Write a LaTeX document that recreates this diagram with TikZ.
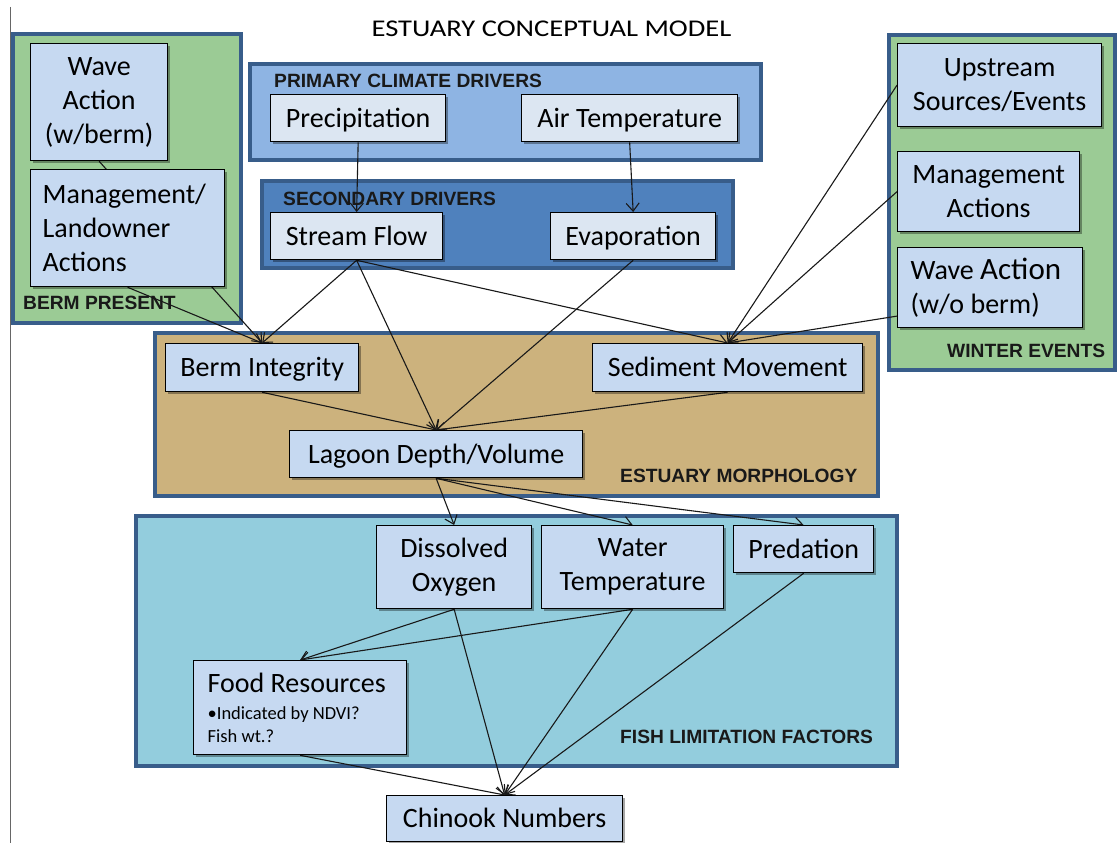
\documentclass[tikz,border=0pt]{standalone}
\usepackage{fontspec}
\setmainfont{Carlito}
\newfontfamily\labfont{Liberation Sans}
\usetikzlibrary{arrows.meta,shadows,calc}
\definecolor{grpborder}{HTML}{385D8A}
\definecolor{greenfill}{HTML}{9BCB95}
\definecolor{primfill}{HTML}{8EB4E3}
\definecolor{secfill}{HTML}{4F81BD}
\definecolor{tanfill}{HTML}{CCB27D}
\definecolor{fishfill}{HTML}{93CDDD}
\definecolor{nodefill}{HTML}{C6D9F1}
\definecolor{lightnode}{HTML}{DCE6F2}
\pgfdeclarelayer{bg}
\pgfdeclarelayer{edges}
\pgfsetlayers{bg,edges,main}
\begin{document}
\begin{tikzpicture}[x=1pt,y=-1pt,
  nd/.style={draw=black, line width=1.3pt, fill=nodefill, inner sep=0pt, anchor=north west,
    font=\fontsize{28}{34}\selectfont, align=center,
    drop shadow={shadow xshift=2.5pt, shadow yshift=-2.5pt, opacity=0.35, fill=black}},
  one/.style={text height=21pt, text depth=3pt},
  sz/.style 2 args={minimum width=#1pt, minimum height=#2pt},
  grp/.style={draw=grpborder, line width=4pt},
  lab/.style={font=\labfont\bfseries\fontsize{19.2}{22}\selectfont, inner sep=0pt, anchor=base west, text=black!90},
  arr/.style={line width=1.1pt, draw=black!90, -{Straight Barb[length=8pt,width=13pt,line width=1.1pt]}}]
\useasboundingbox (0,0) rectangle (1119,843);

% group boxes and background
\begin{pgfonlayer}{bg}
\fill[white] (0,0) rectangle (1119,843);
\draw[black!60, line width=1pt] (10,7) -- (10,843);
\draw[grp, fill=greenfill] (13,34) rectangle (241,323);
\draw[grp, fill=primfill] (250,64) rectangle (761,160);
\draw[grp, fill=secfill] (262,181) rectangle (733,268);
\draw[grp, fill=greenfill] (889,35) rectangle (1115,370);
\draw[grp, fill=tanfill] (155,333) rectangle (878,496);
\draw[grp, fill=fishfill] (136,516) rectangle (897,766);
\node[lab] (lbp) at (23,309) {BERM PRESENT};
\node[lab] (lpc) at (274,88) {PRIMARY CLIMATE DRIVERS};
\node[lab] (lsd) at (283,205) {SECONDARY DRIVERS};
\node[lab] (lwe) at (947,357) {WINTER EVENTS};
\node[lab] (lem) at (620,482) {ESTUARY MORPHOLOGY};
\node[lab] (lfl) at (620,743) {FISH LIMITATION FACTORS};
\end{pgfonlayer}

% title
\node[inner sep=0pt, anchor=base] (title) at (551.5,37)
  {\scalebox{1.19}[1]{\fontsize{24}{28}\selectfont ESTUARY CONCEPTUAL MODEL}};

% nodes
\node[nd, sz={137}{117}] (wb) at (30,43) {Wave\\Action\\(w/berm)};
\node[nd, sz={194}{117}, inner xsep=12pt, text width=170pt, align=flush left] (ml) at (30,169) {Management/\\Landowner\\Actions};
\node[nd, one, sz={175}{47}, fill=lightnode] (pr) at (270,94) {Precipitation};
\node[nd, one, sz={216}{47}, fill=lightnode] (at) at (521,94) {Air Temperature};
\node[nd, one, sz={172}{47}, fill=lightnode] (sf) at (270,212) {Stream Flow};
\node[nd, one, sz={165}{47}, fill=lightnode] (ev) at (550,212) {Evaporation};
\node[nd, sz={204}{83}] (us) at (897,43) {Upstream\\Sources/Events};
\node[nd, sz={182}{80}] (ma) at (897,151) {Management\\Actions};
\node[nd, sz={185}{80}, inner xsep=13pt, text width=159pt, align=flush left] (wo) at (897,247)
  {Wave {\fontsize{31}{34}\selectfont Action}\\(w/o berm)};
\node[nd, one, sz={193}{48}] (bi) at (165,343) {Berm Integrity};
\node[nd, one, sz={270}{48}] (sm) at (592,343) {Sediment Movement};
\node[nd, one, sz={293}{47}] (ld) at (289,430) {Lagoon Depth/Volume};
\node[nd, sz={155}{83}] (do) at (376,525) {Dissolved\\Oxygen};
\node[nd, sz={182}{83}] (wt) at (541,525) {Water\\Temperature};
\node[nd, one, sz={140}{47}] (pd) at (733,525) {Predation};
\node[nd, sz={213}{94}, inner xsep=14pt, text width=185pt, align=flush left] (fr) at (193,660)
  {Food Resources\\[-7pt]{\fontsize{18.5}{22}\selectfont •Indicated by NDVI?}\\[-11pt]{\fontsize{18.5}{22}\selectfont Fish wt.?}};
\node[nd, one, sz={236}{46}] (cn) at (386,795) {Chinook Numbers};

% connectors
\begin{pgfonlayer}{edges}
\draw[arr] (wb.south) -- (bi.north);
\draw[arr] (ml.south) -- (bi.north);
\draw[arr] (pr.south) -- (sf.north);
\draw[arr] (at.south) -- (ev.north);
\draw[arr] (sf.south) -- (bi.north);
\draw[arr] (sf.south) -- (ld.north);
\draw[arr] (sf.south) -- (sm.north);
\draw[arr] (ev.south) -- (ld.north);
\draw[arr] (us.west) -- (sm.north);
\draw[arr] (ma.west) -- (sm.north);
\draw[arr] ($(wo.west)!0.7!(wo.south west)$) -- (sm.north);
\draw[arr] (bi.south) -- (ld.north);
\draw[arr] (sm.south) -- (ld.north);
\draw[arr] (ld.south) -- (do.north);
\draw[arr] (ld.south) -- (wt.north);
\draw[arr] (ld.south) -- (pd.north);
\draw[arr] (do.south) -- (fr.north);
\draw[arr] (wt.south) -- (fr.north);
\draw[arr] (do.south) -- (cn.north);
\draw[arr] (wt.south) -- (cn.north);
\draw[arr] (pd.south) -- (cn.north);
\draw[arr] (fr.south) -- (cn.north);
\end{pgfonlayer}
\end{tikzpicture}
\end{document}
